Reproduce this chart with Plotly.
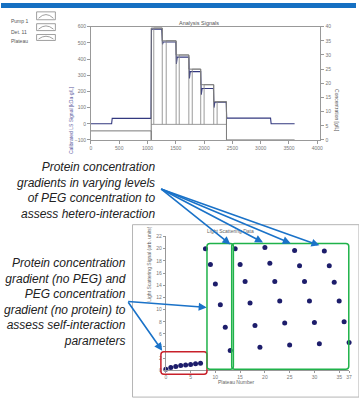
import plotly.graph_objects as go

W, H = 359, 406

# ---------------- data: top chart (Analysis Signals) ----------------
ls_time = [0, 365, 375, 1060, 1070, 1250, 1265, 1275, 1500, 1510, 1525, 1730, 1740, 1755,
           1940, 1950, 1965, 2165, 2175, 2190, 2390, 2400, 3175, 3185, 3600]
ls_signal = [0, 0, 33, 33, 585, 585, 490, 505, 505, 370, 412, 412, 280, 322,
             322, 180, 218, 218, 100, 133, 133, 35, 35, 0, 0]

conc_time = [0, 1065, 1065, 1065, 1260, 1260, 1505, 1505, 1730, 1730, 1940, 1940, 2170, 2170, 2395, 2395, 3600]
conc_value = [3.2, 3.2, 0, 39.5, 39.5, 35, 35, 30, 30, 25, 25, 19.5, 19.5, 13.5, 13.5, 0, 0]

plateau_start = [1110, 1330, 1560, 1790, 2000, 2230]
plateau_end = [1260, 1505, 1730, 1940, 2170, 2395]
plateau_top = [39.5, 35, 30, 25, 19.5, 13.5]
plateau_base = 5.5

# ---------------- data: scatter (Light Scattering Data) ----------------
plateau_number = list(range(0, 38))
ls_points = [0.2, 0.5, 0.65, 0.8, 0.9, 1.0, 1.1, 1.2,
             20.0, 17.4, 14.2, 10.8, 7.1, 3.3,
             20.0, 17.4, 14.6, 11.1, 7.4, 3.8,
             20.2, 17.6, 14.6, 11.4, 7.8, 4.2,
             19.7, 17.2, 14.6, 11.4, 7.9, 4.4,
             19.6, 17.2, 14.5, 11.4, 8.0, 4.6]

top_xticks = [0, 500, 1000, 1500, 2000, 2500, 3000, 3500, 4000]
sc_xticks = [0, 5, 10, 15, 20, 25, 30, 35, 37]


def px(x):
    return x / W


def py(y):
    return 1 - y / H


fig = go.Figure()

# plateau outlines
pl_x, pl_y = [], []
for s, e, t in zip(plateau_start, plateau_end, plateau_top):
    pl_x += [s, s, e, e, None]
    pl_y += [plateau_base, t, t, plateau_base, None]
pl_x += [1065, plateau_end[-1]]
pl_y += [plateau_base, plateau_base]

fig.add_trace(go.Scatter(x=pl_x, y=pl_y, mode="lines", line=dict(color="#8f8f8f", width=0.9),
                         xaxis="x", yaxis="y2", showlegend=False, hoverinfo="skip"))
fig.add_trace(go.Scatter(x=conc_time, y=conc_value, mode="lines", line=dict(color="#7a7a7a", width=1),
                         xaxis="x", yaxis="y2", showlegend=False))
fig.add_trace(go.Scatter(x=ls_time, y=ls_signal, mode="lines", line=dict(color="#33387f", width=1.1),
                         xaxis="x", yaxis="y", showlegend=False))

# scatter
fig.add_trace(go.Scatter(x=plateau_number, y=ls_points, mode="markers",
                         marker=dict(color="#1d1d6b", size=5),
                         xaxis="x3", yaxis="y3", showlegend=False, cliponaxis=False))

axfont = dict(size=5, color="#777", family="Liberation Sans, Arial")

fig.update_layout(
    width=W, height=H, autosize=False,
    margin=dict(l=0, r=0, t=0, b=0),
    paper_bgcolor="white", plot_bgcolor="white",
    xaxis=dict(domain=[px(91), px(323)], range=[0, 4056], anchor="y",
               tickvals=top_xticks, ticks="outside", ticklen=3, tickcolor="#999",
               showline=True, mirror=True, linecolor="#999", linewidth=1,
               showgrid=False, zeroline=False, tickfont=axfont),
    yaxis=dict(domain=[py(139), py(24)], range=[-100, 600], dtick=100, anchor="x",
               ticks="outside", ticklen=3, tickcolor="#999",
               showline=True, linecolor="#999", showgrid=False, zeroline=False, tickfont=axfont),
    yaxis2=dict(range=[0, 40], dtick=5, overlaying="y", side="right", anchor="x",
                ticks="outside", ticklen=3, tickcolor="#999",
                showline=True, linecolor="#999", showgrid=False, zeroline=False, tickfont=axfont),
    xaxis3=dict(domain=[px(166.7), px(352)], range=[0, 37], anchor="y3",
                tickvals=sc_xticks, ticks="outside", ticklen=2, tickcolor="#999",
                showline=True, linecolor="#999", showgrid=False, zeroline=False, tickfont=axfont),
    yaxis3=dict(domain=[py(373), py(237)], range=[0, 22], dtick=2, anchor="x3",
                ticks="outside", ticklen=2, tickcolor="#999",
                showline=True, linecolor="#999", showgrid=False, zeroline=False, tickfont=axfont),
)

shapes = []
# blue header band
shapes.append(dict(type="rect", xref="paper", yref="paper", x0=0, x1=1, y0=py(5), y1=1,
                   fillcolor="#1570c2", line=dict(width=0), layer="above"))
# scatter panel frame
shapes.append(dict(type="rect", xref="paper", yref="paper", x0=px(133), x1=px(362), y0=py(400), y1=py(225),
                   line=dict(color="#b5b5b5", width=1), fillcolor="rgba(0,0,0,0)", layer="below"))


def rrect(x0, y0, x1, y1, r):
    X = lambda v: f"{px(v):.5f}"
    Y = lambda v: f"{py(v):.5f}"
    return (f"M {X(x0 + r)},{Y(y0)} L {X(x1 - r)},{Y(y0)} Q {X(x1)},{Y(y0)} {X(x1)},{Y(y0 + r)} "
            f"L {X(x1)},{Y(y1 - r)} Q {X(x1)},{Y(y1)} {X(x1 - r)},{Y(y1)} "
            f"L {X(x0 + r)},{Y(y1)} Q {X(x0)},{Y(y1)} {X(x0)},{Y(y1 - r)} "
            f"L {X(x0)},{Y(y0 + r)} Q {X(x0)},{Y(y0)} {X(x0 + r)},{Y(y0)} Z")


shapes.append(dict(type="path", xref="paper", yref="paper", path=rrect(161.7, 354, 208.3, 376.7, 3),
                   line=dict(color="#c8202a", width=1.5)))
shapes.append(dict(type="path", xref="paper", yref="paper", path=rrect(208.3, 244, 235, 371.7, 3),
                   line=dict(color="#1fb24a", width=1.5)))
shapes.append(dict(type="path", xref="paper", yref="paper", path=rrect(233.3, 244, 351.7, 371.7, 3),
                   line=dict(color="#1fb24a", width=1.5)))

# legend icons
icon_rows = [(9, 17), (21, 28), (32, 38)]
for (a, b) in icon_rows:
    shapes.append(dict(type="rect", xref="paper", yref="paper", x0=px(36), x1=px(55), y0=py(b), y1=py(a),
                       line=dict(color="#888", width=0.8)))
    shapes.append(dict(type="path", xref="paper", yref="paper",
                       path=f"M {px(38)},{py(b - 1.5)} Q {px(45.5)},{py(a - 1)} {px(53)},{py(b - 1.5)}",
                       line=dict(color="#888", width=0.8)))

fig.update_layout(shapes=shapes)

ann = []
fnt = "Liberation Sans, Arial"
ann.append(dict(text="Analysis Signals", x=px(200), y=py(15), xref="paper", yref="paper",
                showarrow=False, font=dict(size=5.5, color="#555", family=fnt)))
ann.append(dict(text="Calibrated LS Signal [kDa·g/L]", x=px(66), y=py(82), xref="paper", yref="paper",
                textangle=-90, showarrow=False, font=dict(size=5, color="#5a5aa0", family=fnt)))
ann.append(dict(text="Concentration [g/L]", x=px(345), y=py(85), xref="paper", yref="paper",
                textangle=90, showarrow=False, font=dict(size=5, color="#555", family=fnt)))
for i, lab in enumerate(["Pump 1", "Det. 11", "Plateau"]):
    ann.append(dict(text=lab, x=px(8), y=py([13, 24, 34][i]), xref="paper", yref="paper",
                    xanchor="left", showarrow=False, font=dict(size=5, color="#555", family=fnt)))

ann.append(dict(text="Light Scattering Data", x=px(258), y=py(231), xref="paper", yref="paper",
                showarrow=False, font=dict(size=5, color="#666", family=fnt)))
ann.append(dict(text="Plateau Number", x=px(258), y=py(390), xref="paper", yref="paper",
                showarrow=False, font=dict(size=5, color="#666", family=fnt)))
ann.append(dict(text="Light Scattering Signal (arb. units)", x=px(150), y=py(305), xref="paper", yref="paper",
                textangle=-90, showarrow=False, font=dict(size=5, color="#666", family=fnt)))

ann.append(dict(text="<i>Protein concentration<br>gradients in varying levels<br>of PEG concentration to<br>assess hetero-interaction</i>",
                x=px(158), y=py(190), xref="paper", yref="paper", xanchor="right", yanchor="middle",
                align="right", showarrow=False, font=dict(size=12, color="#222", family=fnt)))
ann.append(dict(text="<i>Protein concentration<br>gradient (no PEG) and<br>PEG concentration<br>gradient (no protein) to<br>assess self-interaction<br>parameters</i>",
                x=px(128), y=py(303), xref="paper", yref="paper", xanchor="right", yanchor="middle",
                align="right", showarrow=False, font=dict(size=12, color="#222", family=fnt)))

arrow_col = "#1a72c8"
for (tx, ty), heads in [((162, 189), [(232, 245), (265, 243), (293, 244), (322, 246)]),
                        ((128, 303), [(208, 309), (163, 353)])]:
    for hx, hy in heads:
        ann.append(dict(text="", x=px(hx), y=py(hy), xref="paper", yref="paper",
                        ax=tx - hx, ay=ty - hy, axref="pixel", ayref="pixel",
                        showarrow=True, arrowhead=2, arrowsize=1, arrowwidth=1.6, arrowcolor=arrow_col,
                        standoff=0, startstandoff=0))

fig.update_layout(annotations=ann)

fig.write_html("out.html", config={"displayModeBar": False},
               post_script="document.body.style.margin='0';document.body.style.overflow='hidden';")
